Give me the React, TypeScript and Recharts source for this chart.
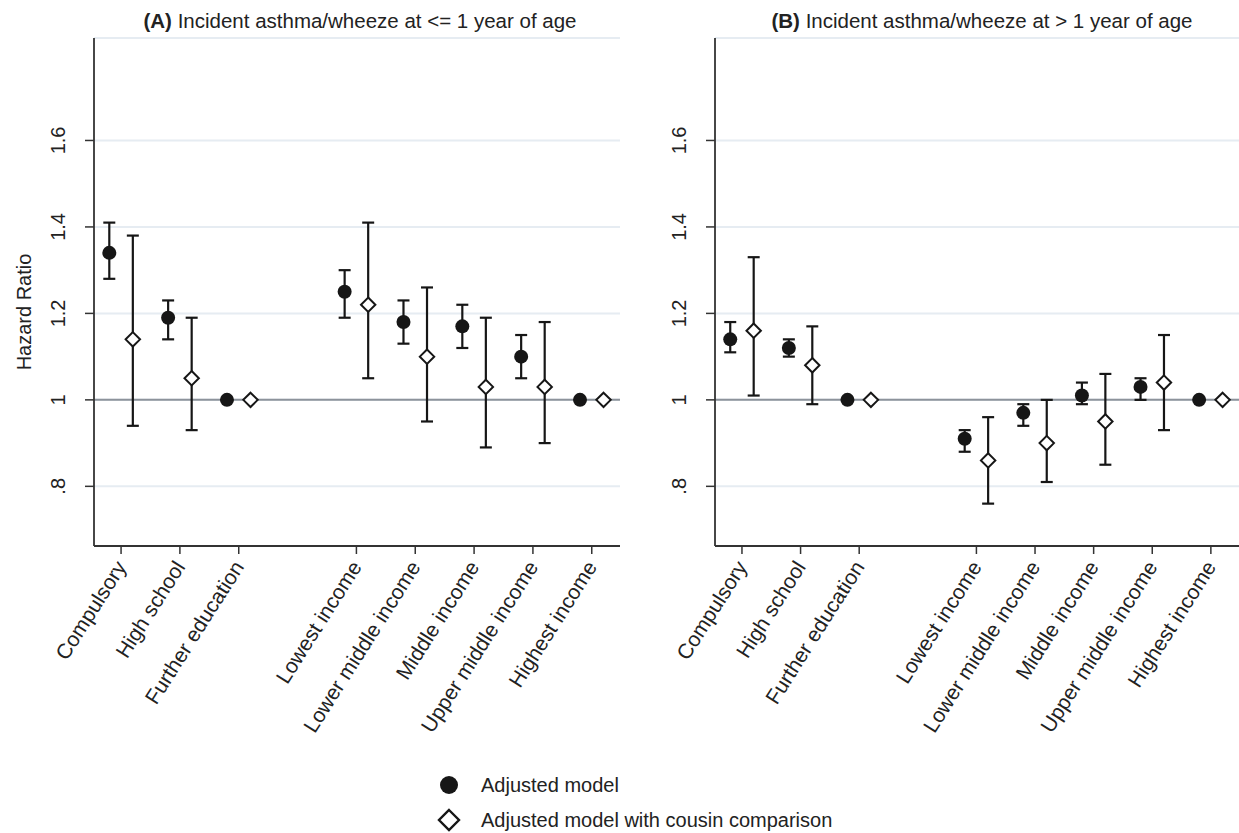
import React from "react";
import {
  ScatterChart,
  Scatter,
  XAxis,
  YAxis,
  CartesianGrid,
  ReferenceLine,
  ErrorBar,
  Legend,
  Customized,
} from "recharts";

const categories = [
  "Compulsory",
  "High school",
  "Further education",
  "Lowest income",
  "Lower middle income",
  "Middle income",
  "Upper middle income",
  "Highest income",
];
// slot 4 is left empty between education and income groups
const slots = [1, 2, 3, 5, 6, 7, 8, 9];
const yTicks = [0.8, 1, 1.2, 1.4, 1.6];
const yTickLabels = [".8", "1", "1.2", "1.4", "1.6"];

// (A) <= 1 year
const adjA = [1.34, 1.19, 1.0, 1.25, 1.18, 1.17, 1.1, 1.0];
const adjALow = [1.28, 1.14, 1.0, 1.19, 1.13, 1.12, 1.05, 1.0];
const adjAHigh = [1.41, 1.23, 1.0, 1.3, 1.23, 1.22, 1.15, 1.0];
const cousinA = [1.14, 1.05, 1.0, 1.22, 1.1, 1.03, 1.03, 1.0];
const cousinALow = [0.94, 0.93, 1.0, 1.05, 0.95, 0.89, 0.9, 1.0];
const cousinAHigh = [1.38, 1.19, 1.0, 1.41, 1.26, 1.19, 1.18, 1.0];

// (B) > 1 year
const adjB = [1.14, 1.12, 1.0, 0.91, 0.97, 1.01, 1.03, 1.0];
const adjBLow = [1.11, 1.1, 1.0, 0.88, 0.94, 0.99, 1.0, 1.0];
const adjBHigh = [1.18, 1.14, 1.0, 0.93, 0.99, 1.04, 1.05, 1.0];
const cousinB = [1.16, 1.08, 1.0, 0.86, 0.9, 0.95, 1.04, 1.0];
const cousinBLow = [1.01, 0.99, 1.0, 0.76, 0.81, 0.85, 0.93, 1.0];
const cousinBHigh = [1.33, 1.17, 1.0, 0.96, 1.0, 1.06, 1.15, 1.0];

const FONT = "'Liberation Sans', Arial, Helvetica, sans-serif";
const INK = "#161616";
const SHIFT = 0.2;

function buildRows(vals: number[], lows: number[], highs: number[], shift: number) {
  return categories.map((name, i) => ({
    name,
    x: slots[i] + shift,
    y: vals[i],
    err: [vals[i] - lows[i], highs[i] - vals[i]],
  }));
}

const Dot = (p: any) => <circle cx={p.cx} cy={p.cy} r={7} fill={INK} />;

const Diamond = (p: any) => {
  const r = 7.2;
  return (
    <polygon
      points={`${p.cx},${p.cy - r} ${p.cx + r},${p.cy} ${p.cx},${p.cy + r} ${p.cx - r},${p.cy}`}
      fill="#fff"
      stroke={INK}
      strokeWidth={2}
    />
  );
};

const XTick = (p: any) => {
  const idx = slots.indexOf(p.payload.value);
  return (
    <g transform={`translate(${p.x + 6},${p.y + 11})`}>
      <text
        transform="rotate(-57.5)"
        textAnchor="end"
        fontSize={21}
        fill="#222"
        fontFamily={FONT}
      >
        {categories[idx]}
      </text>
    </g>
  );
};

const YTick = (p: any) => {
  const idx = yTicks.indexOf(p.payload.value);
  return (
    <text
      transform={`translate(${p.x - 18},${p.y}) rotate(-90)`}
      textAnchor="middle"
      fontSize={20}
      fill="#222"
      fontFamily={FONT}
    >
      {yTickLabels[idx]}
    </text>
  );
};

function LegendBox() {
  return (
    <svg width={420} height={64} style={{ overflow: "visible" }}>
      <circle cx={19} cy={17} r={9} fill={INK} />
      <text x={51} y={24} fontSize={20} fill="#222" fontFamily={FONT}>
        Adjusted model
      </text>
      <polygon points="19,42 29,52 19,62 9,52" fill="#fff" stroke={INK} strokeWidth={2.4} />
      <text x={51} y={59} fontSize={20} fill="#222" fontFamily={FONT}>
        Adjusted model with cousin comparison
      </text>
    </svg>
  );
}

interface PanelProps {
  letter: string;
  title: string;
  titleX: number;
  left: number;
  width: number;
  marginLeft: number;
  adj: number[];
  adjLow: number[];
  adjHigh: number[];
  cousin: number[];
  cousinLow: number[];
  cousinHigh: number[];
  withYLabel?: boolean;
  withLegend?: boolean;
}

function Panel(props: PanelProps) {
  const adjRows = buildRows(props.adj, props.adjLow, props.adjHigh, -SHIFT);
  const cousinRows = buildRows(props.cousin, props.cousinLow, props.cousinHigh, SHIFT);

  return (
    <div style={{ position: "absolute", left: props.left, top: 0 }}>
      <ScatterChart
        width={props.width}
        height={833}
        margin={{ top: 38, right: 0, bottom: 87, left: props.marginLeft }}
      >
        <CartesianGrid vertical={false} stroke="#e6ecf2" strokeWidth={2} />
        <ReferenceLine y={1} stroke="#8d939b" strokeWidth={2} />
        <XAxis
          type="number"
          dataKey="x"
          domain={[0.54, 9.48]}
          allowDataOverflow
          ticks={slots}
          interval={0}
          height={200}
          tickSize={8}
          tickMargin={2}
          tick={<XTick />}
          axisLine={{ stroke: "#333", strokeWidth: 1.8 }}
          tickLine={{ stroke: "#333", strokeWidth: 1.5 }}
        />
        <YAxis
          type="number"
          dataKey="y"
          domain={[0.662, 1.837]}
          allowDataOverflow
          ticks={yTicks}
          interval={0}
          width={60}
          tickSize={9}
          tickMargin={2}
          tick={<YTick />}
          axisLine={{ stroke: "#333", strokeWidth: 1.8 }}
          tickLine={{ stroke: "#333", strokeWidth: 1.5 }}
        />
        <Scatter data={adjRows} shape={Dot} isAnimationActive={false}>
          <ErrorBar dataKey="err" direction="y" width={6} stroke={INK} strokeWidth={2.2} />
        </Scatter>
        <Scatter data={cousinRows} shape={Diamond} isAnimationActive={false}>
          <ErrorBar dataKey="err" direction="y" width={6} stroke={INK} strokeWidth={2.2} />
        </Scatter>
        <Customized
          component={() => (
            <g fontFamily={FONT} fill="#222">
              <text x={props.titleX} y={28} textAnchor="middle" fontSize={20.5}>
                <tspan fontWeight="bold">{props.letter}</tspan> {props.title}
              </text>
              {props.withYLabel && (
                <text
                  transform="translate(31,312) rotate(-90)"
                  textAnchor="middle"
                  fontSize={20}
                >
                  Hazard Ratio
                </text>
              )}
            </g>
          )}
        />
        {props.withLegend && (
          <Legend
            layout="horizontal"
            verticalAlign="middle"
            align="center"
            content={() => <LegendBox />}
            wrapperStyle={{ position: "absolute", left: 430, top: 768, width: 420 }}
          />
        )}
      </ScatterChart>
    </div>
  );
}

export default function App() {
  return (
    <div
      style={{
        position: "absolute",
        left: 0,
        top: 0,
        width: 1239,
        height: 833,
        background: "#fff",
        fontFamily: FONT,
      }}
    >
      <Panel
        letter="(A)"
        title="Incident asthma/wheeze at <= 1 year of age"
        titleX={360}
        left={0}
        width={620}
        marginLeft={34}
        adj={adjA}
        adjLow={adjALow}
        adjHigh={adjAHigh}
        cousin={cousinA}
        cousinLow={cousinALow}
        cousinHigh={cousinAHigh}
        withYLabel
        withLegend
      />
      <Panel
        letter="(B)"
        title="Incident asthma/wheeze at > 1 year of age"
        titleX={362}
        left={620}
        width={619}
        marginLeft={35}
        adj={adjB}
        adjLow={adjBLow}
        adjHigh={adjBHigh}
        cousin={cousinB}
        cousinLow={cousinBLow}
        cousinHigh={cousinBHigh}
      />
    </div>
  );
}
